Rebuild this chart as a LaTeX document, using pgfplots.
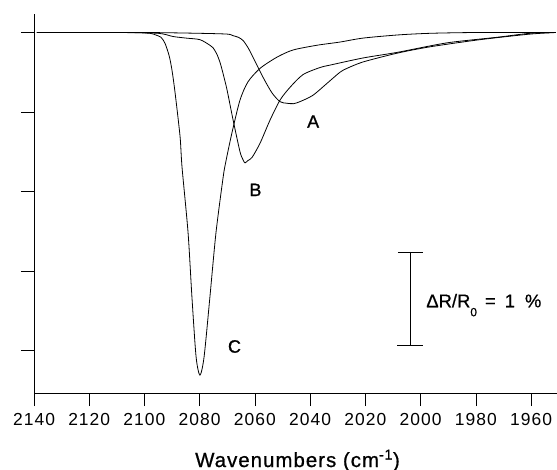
\documentclass[border=0pt]{standalone}
\usepackage{pgfplots}
\pgfplotsset{compat=1.18}
\usepackage{fontspec}
\setmainfont{Liberation Sans}
\begin{document}
\begin{tikzpicture}
\begin{axis}[
  scale only axis,
  width=523bp, height=379bp,
  x dir=reverse,
  xmin=1950.6, xmax=2140,
  ymin=-4.535, ymax=0.233,
  axis x line*=bottom, axis y line*=left,
  axis line style={line width=0.6bp},
  xtick={2140,2120,2100,2080,2060,2040,2020,2000,1980,1960},
  ytick={0,-1,-2,-3,-4},
  yticklabels={},
  tick align=outside,
  major tick length=13bp,
  tick style={line width=0.6bp, black},
  xticklabel style={font=\fontsize{17.5}{18}\selectfont\addfontfeature{LetterSpace=6}, anchor=north, inner sep=0pt, yshift=-7bp},
  /pgf/number format/assume math mode=true,
  /pgf/number format/set thousands separator={},
  clip=false,
]
\coordinate (sw) at (axis cs:2140,-4.535);
% Curve C
\addplot[black, line width=0.8bp, no markers, smooth, tension=0.45] coordinates {
(2139,0) (2120,0) (2105,0) (2098,-0.01) (2096,-0.03) (2094,-0.06) (2092.5,-0.14)
(2091,-0.30) (2090,-0.48) (2088.9,-0.76) (2087.1,-1.31) (2086.4,-1.69) (2084.2,-2.52)
(2082.8,-3.33) (2081.3,-4.08) (2079.9,-4.31) (2078.4,-4.08) (2076.3,-3.33) (2074.1,-2.52)
(2071.5,-1.82) (2070.5,-1.62) (2068.3,-1.26) (2065.4,-0.85) (2062.5,-0.62) (2058.1,-0.45)
(2052.0,-0.31) (2046.2,-0.22) (2037.5,-0.16) (2029.2,-0.12) (2020.8,-0.07) (2008,-0.03)
(1996.6,-0.01) (1980,0) (1951,0)
};
% Curve B
\addplot[black, line width=0.8bp, no markers, smooth, tension=0.45] coordinates {
(2139,0) (2110,0) (2095,-0.01) (2089.7,-0.05) (2085,-0.07) (2079.9,-0.09) (2076.3,-0.16)
(2075.2,-0.19) (2073.8,-0.27) (2072.6,-0.38) (2071.5,-0.52) (2070.1,-0.72) (2067.9,-1.10)
(2065.4,-1.50) (2064.3,-1.60) (2063.6,-1.64) (2062.5,-1.61) (2061.0,-1.57) (2058.1,-1.39)
(2054.5,-1.10) (2050.9,-0.85) (2047.3,-0.69) (2042.6,-0.53) (2036.4,-0.44) (2032.8,-0.41)
(2020.8,-0.32) (2008.5,-0.25) (1990.4,-0.13) (1972.3,-0.06) (1960.4,-0.01) (1951,0)
};
% Curve A
\addplot[black, line width=0.8bp, no markers, smooth, tension=0.45] coordinates {
(2139,0) (2100,0) (2080,-0.01) (2070,-0.02) (2067.9,-0.04) (2066,-0.06) (2064.3,-0.10)
(2062.5,-0.19) (2060.7,-0.31) (2057.1,-0.56) (2053.8,-0.76) (2050.9,-0.87) (2048.4,-0.89)
(2046,-0.895) (2043.7,-0.87) (2039.0,-0.79) (2033.9,-0.64) (2029.2,-0.50) (2026.6,-0.45)
(2020.8,-0.37) (2008.5,-0.26) (1996.6,-0.18) (1978.5,-0.09) (1960.4,-0.02) (1951,0)
};
\node[font=\fontsize{18}{18}\selectfont\addfontfeature{FakeBold=1}] at (axis cs:2038.9,-1.12) {A};
\node[font=\fontsize{18}{18}\selectfont\addfontfeature{FakeBold=1}] at (axis cs:2059.8,-1.98) {B};
\node[font=\fontsize{18}{18}\selectfont\addfontfeature{FakeBold=1}] at (axis cs:2067.4,-3.95) {C};
% scale bar
\draw[line width=0.8bp] (axis cs:2003.8,-2.76) -- (axis cs:2003.8,-3.93);
\draw[line width=0.8bp] (axis cs:2008.2,-2.76) -- (axis cs:1999.1,-2.76);
\draw[line width=0.8bp] (axis cs:2008.5,-3.93) -- (axis cs:1999.2,-3.93);
\node[anchor=west, inner sep=0pt, font=\fontsize{18.5}{19}\selectfont\addfontfeature{FakeBold=0.6}] at (axis cs:1998,-3.43) {ΔR/R\raisebox{-9bp}{\fontsize{12}{12}\selectfont 0}\hspace{8bp}=\hspace{9bp}1\hspace{10bp}\%};
\end{axis}
\node[anchor=base, inner sep=0pt, font=\fontsize{20.5}{21}\selectfont\addfontfeature{LetterSpace=5,FakeBold=0.8}] at ([xshift=263.5bp,yshift=-74bp]sw) {Wavenumbers (cm\textsuperscript{-1})};
\pgfresetboundingbox
\path[use as bounding box] ([xshift=-34bp,yshift=-77bp]sw) rectangle ([xshift=523bp,yshift=393bp]sw);
\end{tikzpicture}
\end{document}
